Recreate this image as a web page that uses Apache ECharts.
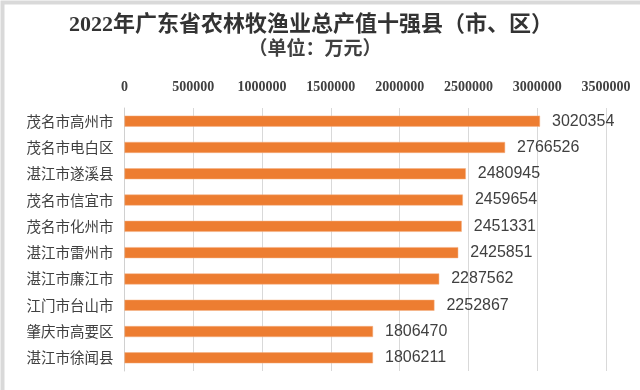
<!DOCTYPE html>
<html>
<head>
<meta charset="utf-8">
<script src="https://cdn.jsdelivr.net/npm/echarts@6/dist/echarts.min.js"></script>
<style>
html,body{margin:0;padding:0;background:#fff;}
#c{width:640px;height:390px;}
</style>
</head>
<body>
<div id="c"></div>
<script>
const titleText = "2022年广东省农林牧渔业总产值十强县（市、区）";
const subtitleText = "（单位：万元）";
const categories = ["茂名市高州市","茂名市电白区","湛江市遂溪县","茂名市信宜市","茂名市化州市","湛江市雷州市","湛江市廉江市","江门市台山市","肇庆市高要区","湛江市徐闻县"];
const values = [3020354,2766526,2480945,2459654,2451331,2425851,2287562,2252867,1806470,1806211];
const axisMin = 0, axisMax = 3500000, axisStep = 500000;

const chart = echarts.init(document.getElementById('c'), null, {renderer:'canvas'});
chart.setOption({
  backgroundColor:'#ffffff',
  animation:false,
  title:[
    {text:titleText, left:311, top:12, textAlign:'center', padding:0,
     textStyle:{fontFamily:'"Liberation Serif","Noto Sans CJK SC",serif', fontWeight:'bold', fontSize:22, lineHeight:26, color:'#333333'}},
    {text:subtitleText, left:315, top:39, textAlign:'center', padding:0,
     textStyle:{fontFamily:'"Liberation Serif","Noto Sans CJK SC",serif', fontWeight:'bold', fontSize:19, lineHeight:22, color:'#404040'}}
  ],
  graphic:[
    {type:'rect', left:0, top:0, shape:{x:0,y:0,width:640,height:390}, silent:true,
     style:{fill:'none', stroke:'#d9d9d9', lineWidth:4}}
  ],
  grid:{left:124.5, right:34, top:108, bottom:19, containLabel:false},
  xAxis:{
    type:'value', position:'top', min:axisMin, max:axisMax, interval:axisStep,
    axisLine:{show:false}, axisTick:{show:false},
    splitLine:{show:true, lineStyle:{color:'#d9d9d9', width:1}},
    axisLabel:{margin:14, formatter:function(v){return String(v);}, fontFamily:'"Liberation Serif",serif', fontWeight:'bold', fontSize:14, color:'#404040'}
  },
  yAxis:{
    type:'category', data:categories, inverse:true,
    axisLine:{show:true, lineStyle:{color:'#d0d0d0', width:1}},
    axisTick:{show:false},
    axisLabel:{margin:11, fontFamily:'"Noto Sans CJK SC",sans-serif', fontSize:14.5, color:'#404040'}
  },
  series:[{
    type:'bar', data:values, barWidth:11,
    itemStyle:{color:'#ED7D31', borderColor:'#F4B183', borderWidth:0.5},
    label:{show:true, position:'right', distance:12, fontFamily:'"Liberation Sans",Arial,sans-serif', fontSize:16, color:'#404040'}
  }]
});
</script>
</body>
</html>
